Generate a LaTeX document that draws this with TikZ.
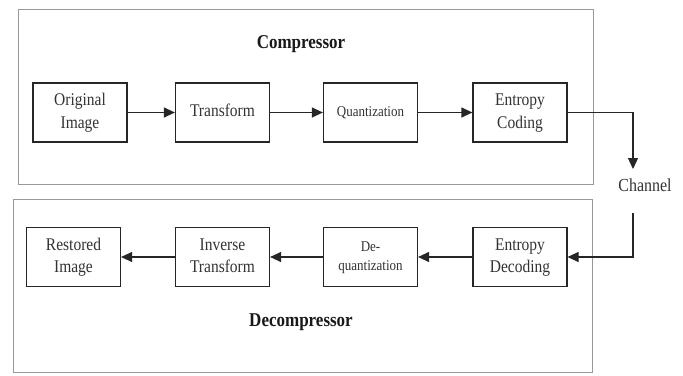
\documentclass[tikz,border=0pt]{standalone}
\usepackage{fontspec}
\setmainfont{Liberation Serif}
\usetikzlibrary{arrows.meta}
\newcommand\stx[1]{\scalebox{1}[1.15]{\begin{tabular}{@{}c@{}}#1\end{tabular}}}
\begin{document}
\begin{tikzpicture}[x=1pt,y=-1pt,
  outer/.style={draw=black!40, line width=1pt},
  blk/.style={draw=black!85, line width=1.2pt, minimum width=94pt, minimum height=59pt,
    align=center, inner sep=0pt, font=\fontsize{15.5}{19.5}\selectfont, text=black!80},
  small/.style={font=\fontsize{13}{16.5}\selectfont},
  title/.style={font=\fontsize{17}{20}\selectfont\bfseries, text=black!90},
  conn/.style={draw=black!85, line width=1.2pt, -{Triangle[length=11pt,width=10pt]}}]
\useasboundingbox (0,0) rectangle (683,375);
\fill[white] (0,0) rectangle (683,375);
% outer frames
\draw[outer] (18,9) rectangle (593,184);
\draw[outer] (13,199) rectangle (592,372);
% titles
\node[title] (tc) at (301,44) {\stx{Compressor}};
\node[title] (td) at (301,322) {\stx{Decompressor}};
% top row
\node[blk] (oi) at (80,112.5) {\stx{Original\\Image}};
\node[blk] (tr) at (222.5,112.5) {\stx{Transform}};
\node[blk, small] (qu) at (370.5,112.5) {\stx{Quantization}};
\node[blk] (ec) at (520,112.5) {\stx{Entropy\\Coding}};
% bottom row
\node[blk] (ri) at (73.5,257) {\stx{Restored\\Image}};
\node[blk] (it) at (222.5,257) {\stx{Inverse\\Transform}};
\node[blk, small] (dq) at (370.5,257) {\stx{De-\\quantization}};
\node[blk] (ed) at (520,257) {\stx{Entropy\\Decoding}};
% channel
\node[font=\fontsize{16}{19}\selectfont, text=black!80] (ch) at (645,187) {\stx{Channel}};
\coordinate (c1) at (633,169);
\coordinate (c2) at (633,213);
% connectors
\draw[conn] (oi) -- (tr);
\draw[conn] (tr) -- (qu);
\draw[conn] (qu) -- (ec);
\draw[conn] (ec.east) -| (c1);
\draw[conn] (c2) |- (ed.east);
\draw[conn] (ed) -- (dq);
\draw[conn] (dq) -- (it);
\draw[conn] (it) -- (ri);
\end{tikzpicture}
\end{document}
